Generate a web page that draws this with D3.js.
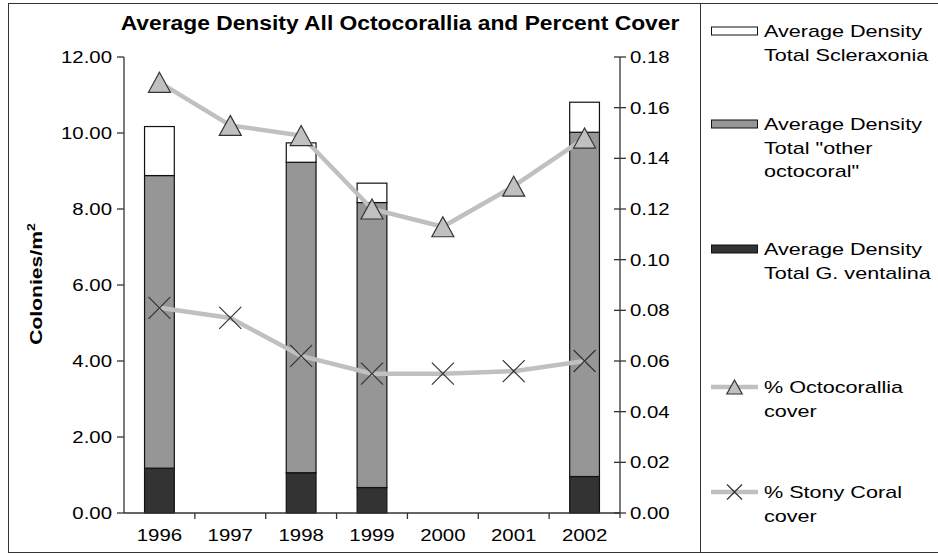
<!DOCTYPE html>
<html>
<head>
<meta charset="utf-8">
<script src="https://cdn.jsdelivr.net/npm/d3@7/dist/d3.min.js"></script>
<style>
  html, body { margin: 0; padding: 0; background: #fff; }
  svg { display: block; }
  text { font-family: "Liberation Sans", Arial, sans-serif; fill: #000; }
</style>
</head>
<body>
<svg id="chart" width="938" height="558"></svg>
<script>
// ---- data ----
const years = ["1996", "1997", "1998", "1999", "2000", "2001", "2002"];
const gVentalina = [1.18, null, 1.06, 0.67, null, null, 0.96];
const otherOcto = [7.70, null, 8.17, 7.50, null, null, 9.06];
const scleraxonia = [1.29, null, 0.51, 0.51, null, null, 0.79];
const octoCover = [0.170, 0.153, 0.149, 0.120, 0.113, 0.129, 0.148];
const stonyCover = [0.081, 0.077, 0.062, 0.055, 0.055, 0.056, 0.060];
const leftTicks = [0, 2, 4, 6, 8, 10, 12];
const rightTicks = [0, 0.02, 0.04, 0.06, 0.08, 0.10, 0.12, 0.14, 0.16, 0.18];
const title = "Average Density All Octocorallia and Percent Cover";
const yTitle = "Colonies/m";

// ---- layout ----
const plot = { left: 124, right: 620, top: 57, bottom: 513 };

const svg = d3.select("#chart");

function stext(g, x, y, str, opts = {}) {
  const sx = opts.sx || 1.2;
  return g.append("text")
    .attr("transform", `translate(${x},${y}) scale(${sx},1)`)
    .attr("font-size", opts.size || 17)
    .attr("font-weight", opts.bold ? "bold" : "normal")
    .attr("text-anchor", opts.anchor || "start")
    .attr("dominant-baseline", opts.baseline || "auto")
    .text(str);
}

// outer border
svg.append("rect").attr("x", 8.5).attr("y", 3.5).attr("width", 940).attr("height", 549)
  .attr("fill", "none").attr("stroke", "#333").attr("stroke-width", 1);

// scales
const x = d3.scaleBand().domain(years).range([plot.left, plot.right]).padding(0);
const yL = d3.scaleLinear().domain([0, 12]).range([plot.bottom, plot.top]);
const yR = d3.scaleLinear().domain([0, 0.18]).range([plot.bottom, plot.top]);
const barW = x.bandwidth() * 0.42;

// title
stext(svg, 400, 30, title, { bold: true, size: 19.5, sx: 1.17, anchor: "middle" });

// stacked bars
const stackSeries = [
  { vals: gVentalina, fill: "#333333" },
  { vals: otherOcto, fill: "#969696" },
  { vals: scleraxonia, fill: "#ffffff" }
];
const barG = svg.append("g");
years.forEach((yr, i) => {
  if (gVentalina[i] == null) return;
  let base = 0;
  stackSeries.forEach(s => {
    const v = s.vals[i];
    barG.append("rect")
      .attr("x", x(yr) + (x.bandwidth() - barW) / 2)
      .attr("width", barW)
      .attr("y", yL(base + v))
      .attr("height", yL(base) - yL(base + v))
      .attr("fill", s.fill)
      .attr("stroke", "#111")
      .attr("stroke-width", 1.2);
    base += v;
  });
});

// axes
const axG = svg.append("g").attr("stroke", "#333").attr("stroke-width", 1.3);
// left axis
axG.append("line").attr("x1", plot.left).attr("x2", plot.left).attr("y1", plot.top).attr("y2", plot.bottom);
leftTicks.forEach(t => {
  axG.append("line").attr("x1", plot.left - 7).attr("x2", plot.left).attr("y1", yL(t)).attr("y2", yL(t));
  stext(svg, 112, yL(t), d3.format(".2f")(t), { anchor: "end", baseline: "central" });
});
// right axis
axG.append("line").attr("x1", plot.right).attr("x2", plot.right).attr("y1", plot.top).attr("y2", plot.bottom + 5);
rightTicks.forEach(t => {
  axG.append("line").attr("x1", plot.right - 6).attr("x2", plot.right + 6).attr("y1", yR(t)).attr("y2", yR(t));
  stext(svg, 630, yR(t), d3.format(".2f")(t), { anchor: "start", baseline: "central" });
});
// bottom axis
axG.append("line").attr("x1", plot.left).attr("x2", plot.right).attr("y1", plot.bottom).attr("y2", plot.bottom);
years.forEach((yr, i) => {
  const xx = x(yr) + x.bandwidth();
  if (i < years.length - 1)
    axG.append("line").attr("x1", xx).attr("x2", xx).attr("y1", plot.bottom).attr("y2", plot.bottom + 6);
  stext(svg, x(yr) + x.bandwidth() / 2, 541, yr, { anchor: "middle" });
});

// y axis title
const yt = svg.append("text")
  .attr("transform", `translate(42,284) rotate(-90) scale(1.28,1)`)
  .attr("font-size", 16.5).attr("font-weight", "bold").attr("text-anchor", "middle");
yt.append("tspan").text(yTitle);
yt.append("tspan").attr("font-size", 11).attr("dy", -7).text("2");

// lines
const lineGen = d3.line().x((d, i) => x(years[i]) + x.bandwidth() / 2).y(d => yR(d));
svg.append("path").datum(octoCover).attr("d", lineGen)
  .attr("fill", "none").attr("stroke", "#c0c0c0").attr("stroke-width", 4.5);
svg.append("path").datum(stonyCover).attr("d", lineGen)
  .attr("fill", "none").attr("stroke", "#c0c0c0").attr("stroke-width", 4.5);

function triangle(g, cx, cy, s) {
  g.append("path")
    .attr("d", `M${cx},${cy - s * 0.5}L${cx + s * 0.55},${cy + s * 0.5}L${cx - s * 0.55},${cy + s * 0.5}Z`)
    .attr("fill", "#c0c0c0").attr("stroke", "#333").attr("stroke-width", 1.2);
}
function cross(g, cx, cy, s) {
  g.append("path")
    .attr("d", `M${cx - s / 2},${cy - s / 2}L${cx + s / 2},${cy + s / 2}M${cx - s / 2},${cy + s / 2}L${cx + s / 2},${cy - s / 2}`)
    .attr("fill", "none").attr("stroke", "#333").attr("stroke-width", 1.2);
}
octoCover.forEach((v, i) => triangle(svg, x(years[i]) + x.bandwidth() / 2, yR(v), 20));
stonyCover.forEach((v, i) => cross(svg, x(years[i]) + x.bandwidth() / 2, yR(v), 22));

// legend
svg.append("rect").attr("x", 700.5).attr("y", 3.5).attr("width", 240).attr("height", 549)
  .attr("fill", "none").attr("stroke", "#333").attr("stroke-width", 1);
const legendItems = [
  { type: "rect", fill: "#ffffff", y: 31, lines: ["Average Density", "Total Scleraxonia"] },
  { type: "rect", fill: "#969696", y: 124, lines: ["Average Density", "Total \"other", "octocoral\""] },
  { type: "rect", fill: "#333333", y: 249, lines: ["Average Density", "Total G. ventalina"] },
  { type: "tri", y: 387, lines: ["% Octocorallia", "cover"] },
  { type: "x", y: 492, lines: ["% Stony Coral", "cover"] }
];
const lg = svg.append("g");
legendItems.forEach(it => {
  if (it.type === "rect") {
    lg.append("rect").attr("x", 711.5).attr("y", it.y - 4).attr("width", 46).attr("height", 8)
      .attr("fill", it.fill).attr("stroke", "#111").attr("stroke-width", 1);
  } else {
    lg.append("line").attr("x1", 711).attr("x2", 758).attr("y1", it.y).attr("y2", it.y)
      .attr("stroke", "#c0c0c0").attr("stroke-width", 4.5);
    if (it.type === "tri") triangle(lg, 734.5, it.y, 14);
    else cross(lg, 734.5, it.y, 15);
  }
  it.lines.forEach((l, k) => stext(lg, 764, it.y + k * 23.5, l, { size: 17, sx: 1.27, baseline: "central" }));
});
</script>
</body>
</html>
